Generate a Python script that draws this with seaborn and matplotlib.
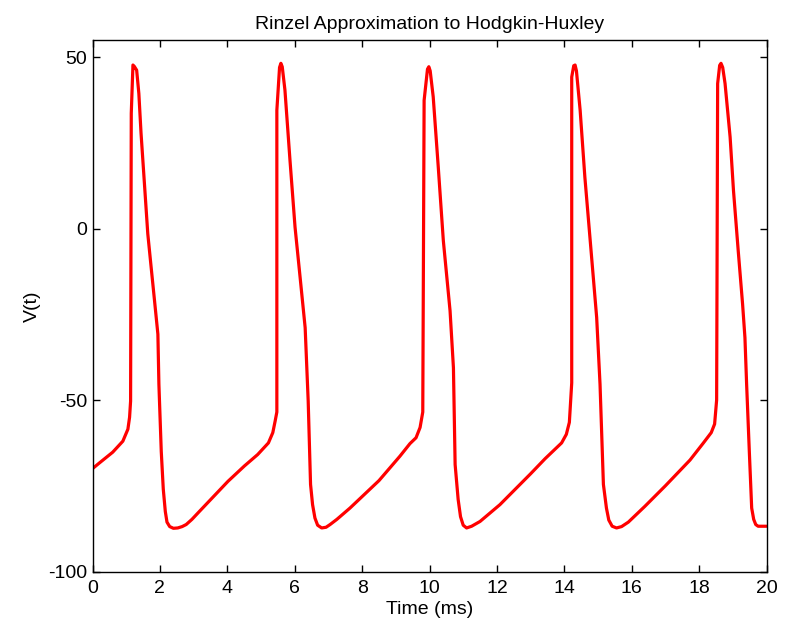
import numpy as np
import pandas as pd
import matplotlib
matplotlib.use("Agg")
import matplotlib.pyplot as plt
import seaborn as sns

# Time points (ms) and membrane potential V(t) (mV)
time_ms = [
    0.00, 0.21, 0.60, 0.90, 1.05, 1.10, 1.13, 1.15, 1.20, 1.24, 1.31, 1.375, 1.44, 1.54, 1.64,
    1.74, 1.84, 1.94, 1.97, 2.04, 2.10, 2.16, 2.21, 2.29, 2.40, 2.53, 2.66, 2.78, 2.95, 3.17,
    4.02, 4.51, 4.90, 5.22, 5.35, 5.42, 5.47, 5.47, 5.55, 5.59, 5.63, 5.71, 5.86, 6.01, 6.16,
    6.31, 6.40, 6.47, 6.53, 6.60, 6.68, 6.80, 6.93, 7.05, 7.25, 7.64,
    8.50, 9.12, 9.42, 9.60, 9.72, 9.80, 9.84, 9.94, 9.98, 10.02, 10.11, 10.26, 10.41,
    10.61, 10.71, 10.76, 10.85, 10.92, 11.00, 11.10, 11.25, 11.50, 12.09,
    13.00, 13.43, 13.92, 14.06, 14.15, 14.22, 14.22, 14.28, 14.32, 14.36, 14.47, 14.61, 14.76,
    14.96, 15.06, 15.16, 15.25, 15.32, 15.42, 15.55, 15.70, 15.90, 16.39,
    17.00, 17.73, 18.12, 18.36, 18.46, 18.52, 18.55, 18.61, 18.65, 18.70, 18.77, 18.92, 19.02,
    19.16, 19.29, 19.36, 19.41, 19.49, 19.56, 19.62, 19.68, 19.75, 20.00,
]
voltage = [
    -70.0, -68.3, -65.2, -62.0, -58.5, -55.0, -50.3, 33.6, 47.7, 47.3, 46.2, 39.4, 27.8, 13.2, -1.5,
    -11.3, -21.0, -30.8, -45.4, -65.0, -76.0, -82.5, -85.6, -86.9, -87.4, -87.3, -86.9, -86.3, -84.8, -82.5,
    -73.7, -69.2, -65.9, -62.5, -59.5, -56.1, -53.5, 34.5, 47.0, 48.2, 47.2, 40.4, 19.9, 0.4, -14.2,
    -28.9, -50.3, -74.6, -80.5, -84.4, -86.5, -87.3, -87.1, -86.3, -84.8, -81.5,
    -73.5, -66.4, -62.7, -61.0, -58.0, -53.5, 37.4, 46.5, 47.2, 46.0, 38.4, 17.9, -3.5,
    -24.0, -40.6, -68.8, -79.0, -84.0, -86.5, -87.3, -86.8, -85.4, -80.5,
    -71.5, -67.1, -62.5, -60.0, -56.5, -45.0, 44.2, 47.5, 47.7, 46.0, 34.5, 15.0, -2.5,
    -25.9, -45.4, -74.6, -81.5, -85.0, -86.8, -87.3, -86.9, -85.6, -81.0,
    -75.0, -67.5, -62.6, -59.5, -57.0, -50.0, 42.3, 47.6, 48.2, 47.0, 42.3, 26.7, 11.1,
    -6.4, -22.0, -31.8, -45.4, -65.0, -81.5, -84.8, -86.3, -86.8, -86.8,
]

x_ticks = [0, 2, 4, 6, 8, 10, 12, 14, 16, 18, 20]
y_ticks = [-100, -50, 0, 50]

df = pd.DataFrame({"Time (ms)": time_ms, "V(t)": voltage})

sns.set_theme(style="white")
plt.rcParams["font.family"] = ["Liberation Sans", "DejaVu Sans"]
plt.rcParams["axes.unicode_minus"] = False

fig = plt.figure(figsize=(7.86, 6.25), dpi=100)
ax = fig.add_axes([0.1177, 0.0856, 0.8575, 0.8504])

sns.lineplot(data=df, x="Time (ms)", y="V(t)", ax=ax, sort=False, estimator=None,
             color="#ff0000", linewidth=2.3)

ax.set_xlim(0, 20)
ax.set_ylim(-100, 55)
ax.set_xticks(x_ticks)
ax.set_yticks(y_ticks)
ax.tick_params(axis="both", direction="in", length=5, width=1, colors="black", labelsize=14,
               top=True, right=True, bottom=True, left=True)
ax.tick_params(axis="x", pad=6)
ax.tick_params(axis="y", pad=4)
for s in ax.spines.values():
    s.set_visible(True)
    s.set_color("black")
    s.set_linewidth(1)
ax.set_xlabel("Time (ms)", fontsize=14, color="black", labelpad=3)
ax.set_ylabel("V(t)", fontsize=14, color="black", labelpad=5)
ax.set_title("Rinzel Approximation to Hodgkin-Huxley", fontsize=14, color="black", pad=8)
ax.grid(False)

fig.savefig("out.png", dpi=100, facecolor="white")
